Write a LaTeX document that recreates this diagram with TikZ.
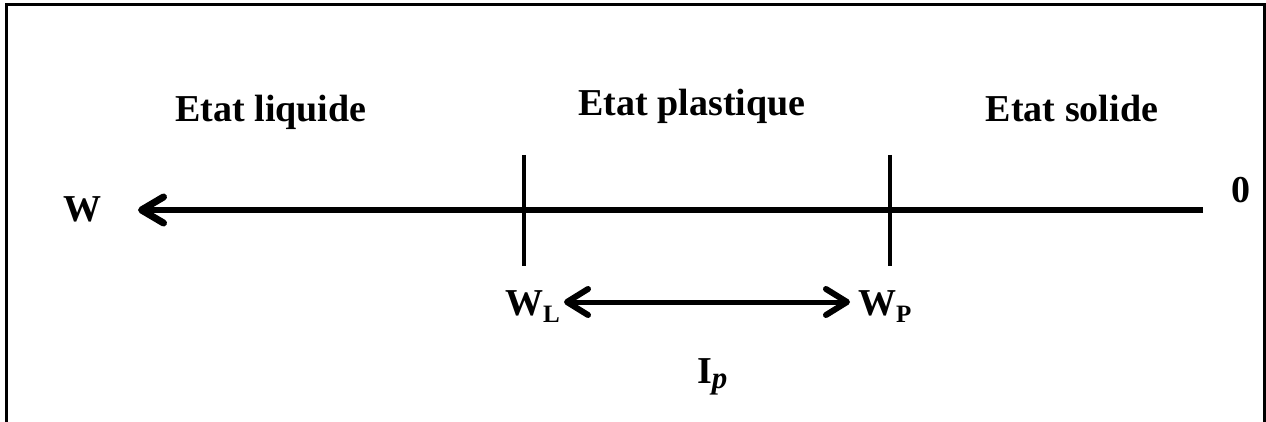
\documentclass[tikz,border=0pt]{standalone}
\usepackage{fontspec}
\setmainfont{Liberation Serif}
\usetikzlibrary{arrows.meta,positioning}
\newcommand{\subtxt}[1]{\raisebox{-7pt}{\fontsize{25}{25}\selectfont #1}}

\begin{document}
\begin{tikzpicture}[x=1pt,y=-1pt,
    lbl/.style={inner sep=0pt,font=\fontsize{38}{40}\selectfont\bfseries},
    axisline/.style={line width=6pt,-{Straight Barb[round,length=22pt,width=26pt,line width=7pt]}},
    tickline/.style={line width=4.5pt},
    indexline/.style={line width=5pt,{Straight Barb[round,length=21pt,width=26pt,line width=6pt]}-{Straight Barb[round,length=21pt,width=26pt,line width=6pt]}}]
  \useasboundingbox (0,0) rectangle (1266,422);
  % frame (open at the bottom)
  \draw[line width=3pt] (6,430) -- (6,5) -- (1264,5) -- (1264,430);

  % states
  \node[lbl,anchor=base] (liquide) at (271,122) {Etat liquide};
  \node[lbl,anchor=base] (plastique) at (692,116) {Etat plastique};
  \node[lbl,anchor=base] (solide) at (1072,122) {Etat solide};

  % water content axis
  \node[lbl,anchor=base] (w) at (82,222) {W};
  \node[lbl,anchor=base] (zero) at (1241,203) {0};
  \coordinate (axisR) at (1203,210);
  \coordinate (axisL) at (138,210);
  \draw[axisline] (axisR) -- (axisL);

  % limits
  \coordinate (wlTop) at (524,155);
  \coordinate (wlBot) at (524,266);
  \coordinate (wpTop) at (890,155);
  \coordinate (wpBot) at (890,266);
  \draw[tickline] (wlTop) -- (wlBot);
  \draw[tickline] (wpTop) -- (wpBot);
  \node[lbl,anchor=base west] (wl) at (505,315) {W\subtxt{L}};
  \node[lbl,anchor=base west] (wp) at (858,315) {W\subtxt{P}};

  % plasticity index
  \coordinate (ipL) at (564,302);
  \coordinate (ipR) at (850,302);
  \draw[indexline] (ipL) -- (ipR);
  \node[lbl,anchor=base west] (ip) at (697,383) {I\raisebox{-5pt}{\fontsize{31}{31}\selectfont\itshape p}};
\end{tikzpicture}
\end{document}
